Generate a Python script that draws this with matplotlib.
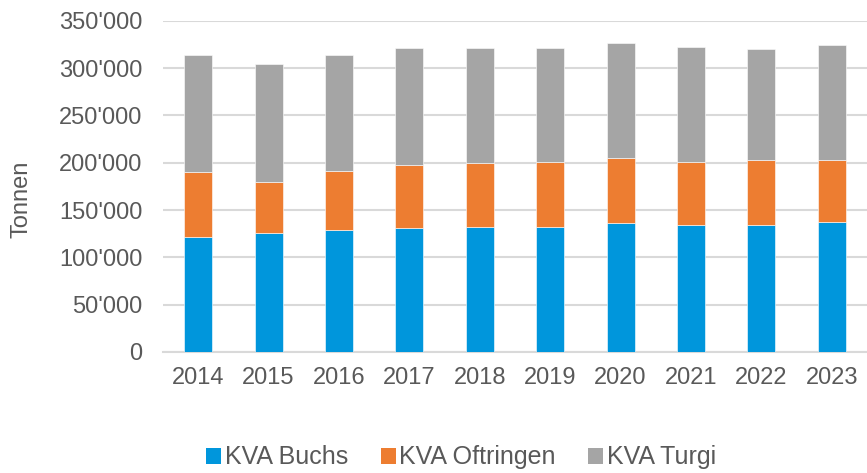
import numpy as np
import matplotlib
matplotlib.use("Agg")
import matplotlib.pyplot as plt
from matplotlib.ticker import FuncFormatter
from matplotlib.patches import Patch

years = ["2014", "2015", "2016", "2017", "2018", "2019", "2020", "2021", "2022", "2023"]
buchs = [121700, 125300, 128500, 130600, 131600, 132000, 135900, 134400, 133800, 137600]
oftringen = [68300, 54400, 62900, 66800, 68200, 68900, 69200, 66500, 69200, 65400]
turgi = [123600, 124400, 122800, 124100, 121700, 120000, 121100, 121400, 117200, 121500]
series_names = ["KVA Buchs", "KVA Oftringen", "KVA Turgi"]
colors = ["#0096DC", "#ED7D31", "#A5A5A5"]

plt.rcParams['font.family'] = ['Liberation Sans', 'DejaVu Sans']
text_color = "#595959"

fig = plt.figure(figsize=(8.67, 4.73), dpi=100)
ax = fig.add_axes([0.188, 0.256, 0.812, 0.70])

x = np.arange(len(years))
bottom = np.zeros(len(years))
for vals, c in zip([buchs, oftringen, turgi], colors):
    ax.bar(x, vals, width=0.4, bottom=bottom, color=c, edgecolor="white", linewidth=0.4, zorder=3)
    bottom += np.array(vals)

ax.set_xlim(-0.5, len(years) - 0.5)
ax.set_ylim(0, 350000)
ax.set_yticks(np.arange(0, 350001, 50000))
ax.yaxis.set_major_formatter(FuncFormatter(lambda v, p: f"{int(v):,}".replace(",", "'")))
ax.set_xticks(x)
ax.set_xticklabels(years)
ax.grid(axis="y", color="#D9D9D9", linewidth=1.5, zorder=0)
for s in ["top", "right", "left"]:
    ax.spines[s].set_visible(False)
ax.spines["bottom"].set_color("#D9D9D9")
ax.spines["bottom"].set_linewidth(1.5)
ax.tick_params(axis="both", length=0, colors=text_color, labelsize=17)
ax.tick_params(axis="y", pad=15)
ax.tick_params(axis="x", pad=11)
ax.set_ylabel("Tonnen", fontsize=17, color=text_color)
ax.yaxis.set_label_coords(-0.186, 0.462)

handles = [Patch(facecolor=c) for c in colors]
fig.legend(handles, series_names, loc="center", bbox_to_anchor=(0.532, 0.033), ncol=3,
           frameon=False, fontsize=18, labelcolor=text_color, handlelength=0.6,
           handleheight=0.6, handletextpad=0.15, columnspacing=1.3)

fig.savefig("out.png", dpi=100)
